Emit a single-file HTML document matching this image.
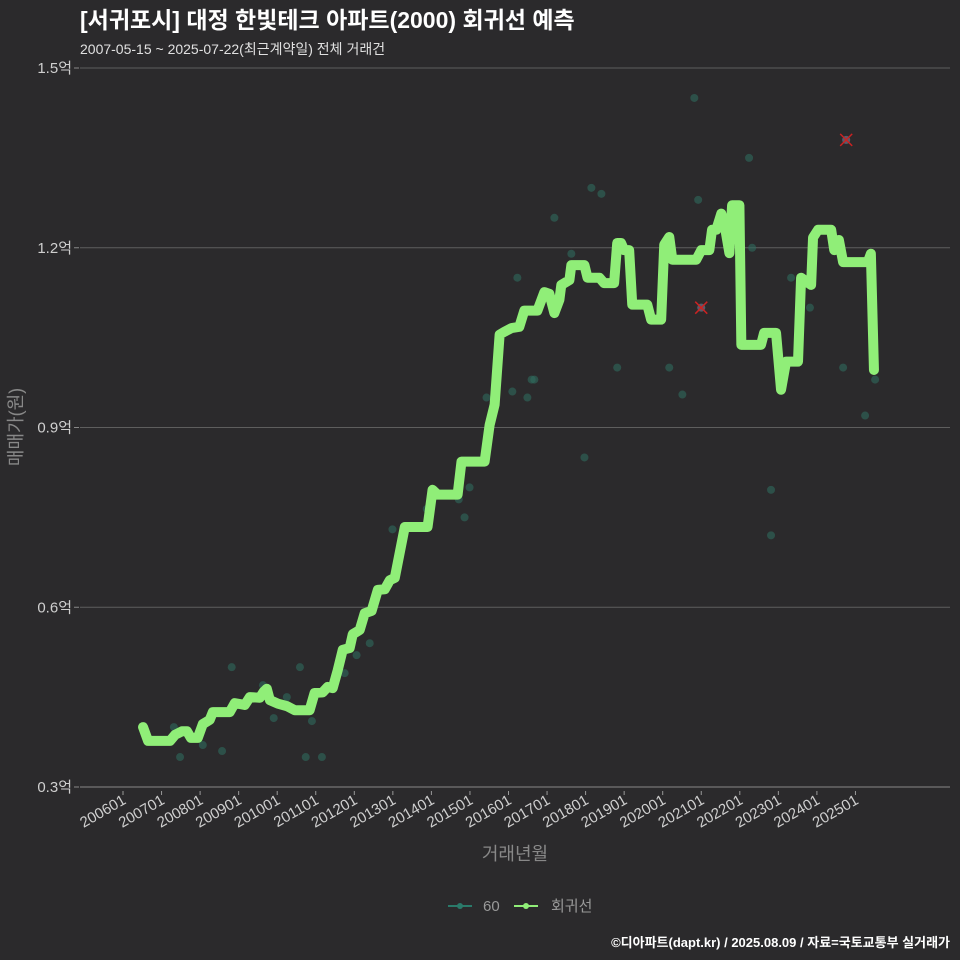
<!DOCTYPE html>
<html><head><meta charset="utf-8"><style>
html,body{margin:0;padding:0;background:#2b2a2c;overflow:hidden;width:960px;height:960px;}
svg{display:block;}
svg text{font-family:"Liberation Sans","Noto Sans CJK KR",sans-serif;}
</style></head><body>
<svg id="chart" width="960" height="960" xmlns="http://www.w3.org/2000/svg">
<rect width="960" height="960" fill="#2b2a2c"/>
<text x="80" y="28" font-size="23" font-weight="bold" fill="#ffffff">[서귀포시] 대정 한빛테크 아파트(2000) 회귀선 예측</text>
<text x="80" y="54" font-size="14" fill="#e0e0e0">2007-05-15 ~ 2025-07-22(최근계약일) 전체 거래건</text>
<g id="grid"></g>
<g id="yticks"></g>
<g id="xticks"></g>
<g id="points"></g>
<g id="line"></g>
<g id="outliers"></g>
<text transform="translate(22,427) rotate(-90)" text-anchor="middle" font-size="18" fill="#888">매매가(원)</text>
<text x="515" y="860" text-anchor="middle" font-size="18" fill="#888">거래년월</text>
<g>
<g>
<line x1="448" y1="906" x2="472" y2="906" stroke="#2a7a6a" stroke-width="2"/>
<circle cx="460" cy="906" r="3" fill="#2a7a6a"/>
<text x="483" y="911" font-size="15" fill="#999">60</text></g>
<g>
<line x1="514" y1="906" x2="538" y2="906" stroke="#90ee78" stroke-width="2"/>
<circle cx="526" cy="906" r="3" fill="#90ee78"/>
<text x="551" y="911" font-size="15" fill="#999">회귀선</text></g>
</g>
<text x="950" y="947" text-anchor="end" font-size="13" font-weight="bold" fill="#ffffff">©디아파트(dapt.kr) / 2025.08.09 / 자료=국토교통부 실거래가</text>
</svg>
<script>
const yTicks=[0.3,0.6,0.9,1.2,1.5];
const yTickLabels=["0.3억","0.6억","0.9억","1.2억","1.5억"];
const xTickYears=[2006,2007,2008,2009,2010,2011,2012,2013,2014,2015,2016,2017,2018,2019,2020,2021,2022,2023,2024,2025];
const xTickLabels=["200601","200701","200801","200901","201001","201101","201201","201301","201401","201501","201601","201701","201801","201901","202001","202101","202201","202301","202401","202501"];
const lineT=[2006.52,2006.65,2007.22,2007.35,2007.53,2007.66,2007.76,2007.94,2008.07,2008.25,2008.33,2008.77,2008.90,2009.16,2009.29,2009.55,2009.65,2009.73,2009.81,2010.02,2010.25,2010.46,2010.84,2010.97,2011.18,2011.31,2011.44,2011.57,2011.70,2011.88,2011.96,2012.14,2012.27,2012.45,2012.61,2012.79,2012.92,2013.05,2013.31,2013.90,2014.03,2014.16,2014.68,2014.78,2015.38,2015.51,2015.64,2015.77,2015.90,2016.08,2016.28,2016.41,2016.75,2016.93,2017.06,2017.19,2017.32,2017.37,2017.58,2017.63,2017.97,2018.05,2018.36,2018.48,2018.74,2018.82,2018.92,2019.00,2019.13,2019.21,2019.60,2019.70,2019.96,2020.04,2020.17,2020.25,2020.87,2021.00,2021.21,2021.28,2021.39,2021.52,2021.60,2021.73,2021.80,2021.99,2022.04,2022.55,2022.63,2022.94,2023.07,2023.20,2023.51,2023.59,2023.85,2023.90,2024.03,2024.37,2024.45,2024.57,2024.68,2025.32,2025.40,2025.48];
const lineV=[0.400,0.377,0.377,0.387,0.393,0.393,0.382,0.382,0.405,0.412,0.425,0.425,0.440,0.437,0.450,0.449,0.459,0.464,0.445,0.439,0.435,0.428,0.428,0.457,0.458,0.467,0.465,0.495,0.529,0.532,0.555,0.562,0.590,0.594,0.629,0.630,0.645,0.649,0.734,0.734,0.796,0.788,0.788,0.843,0.843,0.904,0.938,1.055,1.060,1.066,1.068,1.095,1.095,1.126,1.123,1.091,1.113,1.138,1.146,1.171,1.171,1.150,1.150,1.141,1.141,1.208,1.208,1.196,1.196,1.105,1.105,1.080,1.080,1.205,1.218,1.180,1.180,1.196,1.196,1.230,1.230,1.257,1.240,1.191,1.271,1.271,1.038,1.038,1.058,1.058,0.963,1.010,1.010,1.150,1.138,1.217,1.230,1.230,1.196,1.213,1.176,1.176,1.190,0.996];
const ptT=[2007.32,2007.48,2008.07,2008.57,2008.82,2009.63,2009.91,2010.25,2010.59,2010.74,2010.90,2011.16,2011.75,2012.06,2012.40,2012.99,2013.88,2014.71,2014.86,2014.99,2015.43,2016.10,2016.23,2016.49,2016.60,2016.67,2017.19,2017.63,2017.97,2018.15,2018.41,2018.82,2020.17,2020.51,2020.82,2020.92,2021.00,2022.24,2022.32,2022.81,2022.81,2023.33,2023.82,2024.68,2024.76,2025.25,2025.51];
const ptV=[0.40,0.35,0.37,0.36,0.50,0.47,0.415,0.45,0.50,0.35,0.41,0.35,0.49,0.52,0.54,0.73,0.764,0.78,0.75,0.80,0.95,0.96,1.15,0.95,0.98,0.98,1.25,1.19,0.85,1.30,1.29,1.00,1.00,0.955,1.45,1.28,1.10,1.35,1.20,0.796,0.72,1.15,1.10,1.00,1.38,0.92,0.98];
const outT=[2021.00,2024.76];
const outV=[1.10,1.38];

const NS="http://www.w3.org/2000/svg";
const X0=80,X1=950,Y0=787;
function xs(t){return 123+(t-2006)*38.55;}
function ys(v){return Y0-(v-0.3)/1.2*719;}
function mk(tag,attrs,parent){const e=document.createElementNS(NS,tag);for(const k in attrs)e.setAttribute(k,attrs[k]);parent.appendChild(e);return e;}
const grid=document.getElementById('grid'),yt=document.getElementById('yticks'),xt=document.getElementById('xticks');
yTicks.forEach((v,i)=>{
 const l=mk('line',{x1:X0,x2:X1,y1:ys(v),y2:ys(v),stroke:i==0?'#888':'#5e5e5e','stroke-width':1},grid);
 
 
 const tk=mk('line',{x1:74,x2:79,y1:ys(v),y2:ys(v),stroke:'#888'},yt);
 
 
 const t=mk('text',{x:72,y:ys(v)+5,'text-anchor':'end','font-size':15,fill:'#cfcfcf'},yt);
 t.textContent=yTickLabels[i];
 
 
});
xTickYears.forEach((y,i)=>{
 const x=xs(y);
 const tk=mk('line',{x1:x,x2:x,y1:Y0+4,y2:Y0+8,stroke:'#999'},xt);
 
 
 const t=mk('text',{transform:`translate(${x+4},${Y0+16}) rotate(-30)`,'text-anchor':'end','font-size':15,fill:'#cfcfcf'},xt);
 t.textContent=xTickLabels[i];
 
 
});
const pg=document.getElementById('points');
ptT.forEach((t,i)=>{
 const c=mk('circle',{cx:xs(t),cy:ys(ptV[i]),r:4,fill:'#2f6b5e','fill-opacity':0.6},pg);
 
 
});
const lg=document.getElementById('line');
const p=mk('polyline',{points:lineT.map((t,i)=>xs(t)+','+ys(lineV[i])).join(' '),fill:'none',stroke:'#90ee78','stroke-width':10,'stroke-linejoin':'round','stroke-linecap':'round'},lg);


const og=document.getElementById('outliers');
outT.forEach((t,i)=>{
 const x=xs(t),y=ys(outV[i]);
 const g=mk('g',{},og);
 
 
 mk('circle',{cx:x,cy:y,r:4,fill:'#5a5a6a'},g);
 mk('path',{d:`M${x-6},${y-6}L${x+6},${y+6}M${x-6},${y+6}L${x+6},${y-6}`,stroke:'#cc2222','stroke-width':1.5},g);
});
</script>
</body></html>
